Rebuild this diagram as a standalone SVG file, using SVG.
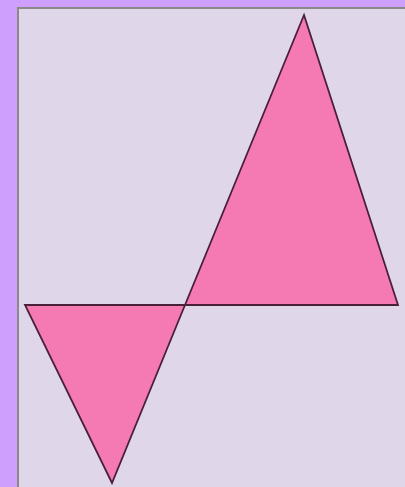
<svg xmlns="http://www.w3.org/2000/svg" width="405" height="487" viewBox="0 0 405 487">
<style>
.tri{fill:#f57ab4;stroke:#4a2038;stroke-width:1.8;stroke-linejoin:miter}
</style>
<rect x="0" y="0" width="405" height="487" fill="#cf9ffd"/>
<rect id="panel" x="18" y="8" width="400" height="500" fill="#dfd7e9" stroke="#8a8a8a" stroke-width="2"/>
<g id="upper-triangle"><polygon class="tri" points="304,15 398,305 185,305"/></g>
<g id="lower-triangle"><polygon class="tri" points="25,305 185,305 112,483"/></g>
</svg>
